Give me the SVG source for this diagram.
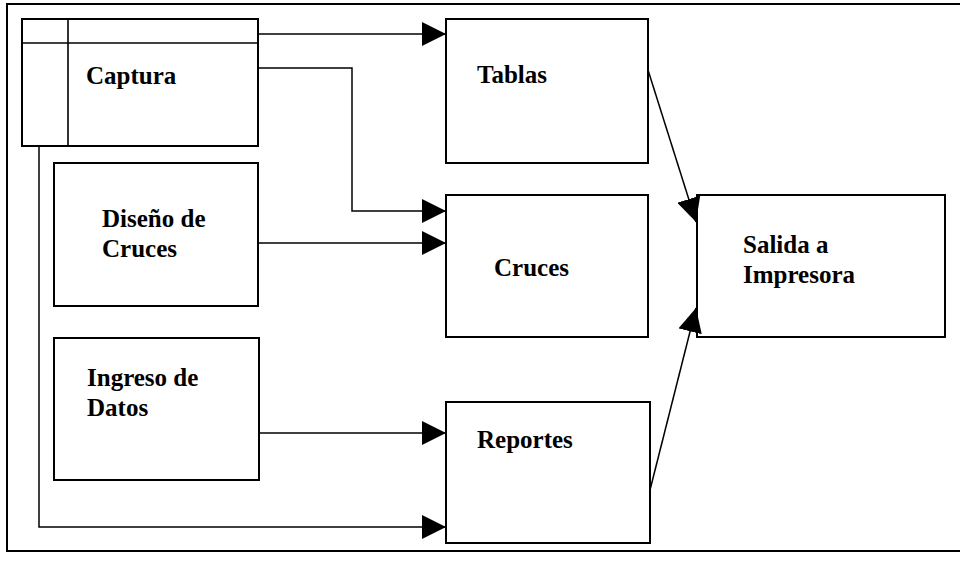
<svg xmlns="http://www.w3.org/2000/svg" width="960" height="561" viewBox="0 0 960 561">
  <style>
    .box { fill: #fff; stroke: #000; stroke-width: 2; }
    .div { fill: none; stroke: #000; stroke-width: 1.6; }
    .frame { fill: none; stroke: #000; stroke-width: 2; }
    .conn { fill: none; stroke: #000; stroke-width: 1.5; marker-end: url(#arrow); }
    .lbl { font-family: "Liberation Serif", "Times New Roman", serif; font-weight: bold; font-size: 25px; fill: #000; }
  </style>
  <defs>
    <marker id="arrow" markerUnits="userSpaceOnUse" markerWidth="24" markerHeight="24" refX="24" refY="12" orient="auto">
      <path d="M0,0 L24,12 L0,24 Z" fill="#000"/>
    </marker>
  </defs>
  <rect width="960" height="561" fill="#fff"/>

  <!-- outer frame, open on the right -->
  <path class="frame" d="M960,4 H7 V551 H960"/>

  <g id="captura">
    <rect class="box" x="22" y="19" width="236" height="127"/>
    <line class="div" x1="22" y1="43" x2="258" y2="43"/>
    <line class="div" x1="68" y1="19" x2="68" y2="146"/>
    <text class="lbl" x="86" y="84">Captura</text>
  </g>

  <g id="diseno">
    <rect class="box" x="54" y="163" width="204" height="143"/>
    <text class="lbl" x="102" y="227">Diseño de</text>
    <text class="lbl" x="102" y="257">Cruces</text>
  </g>

  <g id="ingreso">
    <rect class="box" x="54" y="338" width="205" height="142"/>
    <text class="lbl" x="87" y="386">Ingreso de</text>
    <text class="lbl" x="87" y="416">Datos</text>
  </g>

  <g id="tablas">
    <rect class="box" x="446" y="19" width="202" height="144"/>
    <text class="lbl" x="477" y="83">Tablas</text>
  </g>

  <g id="cruces">
    <rect class="box" x="446" y="195" width="202" height="142"/>
    <text class="lbl" x="494" y="276">Cruces</text>
  </g>

  <g id="reportes">
    <rect class="box" x="446" y="402" width="204" height="141"/>
    <text class="lbl" x="477" y="448">Reportes</text>
  </g>

  <g id="salida">
    <rect class="box" x="697" y="195" width="248" height="142"/>
    <text class="lbl" x="743" y="253">Salida a</text>
    <text class="lbl" x="743" y="283">Impresora</text>
  </g>

  <g id="connectors">
    <path class="conn" d="M258,34 H446"/>
    <path class="conn" d="M258,68 H352 V211 H446"/>
    <path class="conn" d="M258,243 H446"/>
    <path class="conn" d="M259,433 H446"/>
    <path class="conn" d="M39,146 V527 H446"/>
    <path class="conn" d="M648,70 L696,222"/>
    <path class="conn" d="M650,490 L696,308"/>
  </g>
</svg>
